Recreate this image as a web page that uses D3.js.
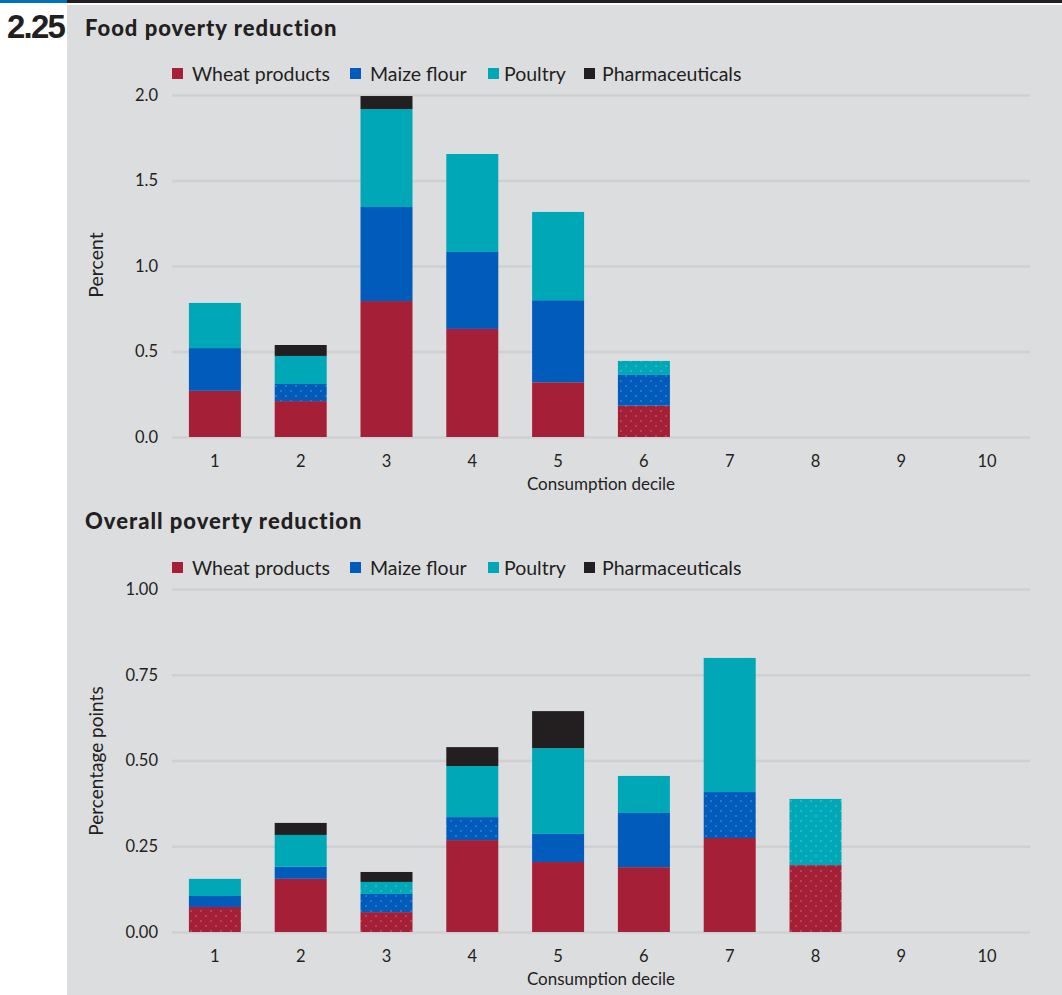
<!DOCTYPE html>
<html><head><meta charset="utf-8">
<script src="https://cdn.jsdelivr.net/npm/d3@7/dist/d3.min.js"></script>
<style>body{margin:0;background:#fff;}svg{display:block;}text{font-family:Lato,"Open Sans",sans-serif;fill:#231f20;}</style>
</head><body>
<script>
const deciles = ["1","2","3","4","5","6","7","8","9","10"];
const seriesNames = ["Wheat products","Maize flour","Poultry","Pharmaceuticals"];
const seriesColors = ["#a51f36","#005bbb","#00a7b7","#231f20"];

// Food poverty reduction (percent)
const foodWheat   = [0.27, 0.21, 0.795, 0.632, 0.32, 0.183, 0, 0, 0, 0];
const foodMaize   = [0.25, 0.10, 0.55, 0.45, 0.48, 0.18, 0, 0, 0, 0];
const foodPoultry = [0.264, 0.164, 0.573, 0.573, 0.516, 0.082, 0, 0, 0, 0];
const foodPharma  = [0, 0.064, 0.076, 0, 0, 0, 0, 0, 0, 0];
// not significant segments (dotted), per series
const foodDotWheat   = [0,0,0,0,0,1,0,0,0,0];
const foodDotMaize   = [0,1,0,0,0,1,0,0,0,0];
const foodDotPoultry = [0,0,0,0,0,1,0,0,0,0];
const foodDotPharma  = [0,0,0,0,0,0,0,0,0,0];
const foodTicks = [0, 0.5, 1.0, 1.5, 2.0];

// Overall poverty reduction (percentage points)
const allWheat   = [0.073, 0.155, 0.058, 0.268, 0.204, 0.189, 0.274, 0.195, 0, 0];
const allMaize   = [0.032, 0.035, 0.053, 0.067, 0.082, 0.158, 0.134, 0, 0, 0];
const allPoultry = [0.050, 0.093, 0.035, 0.149, 0.250, 0.108, 0.391, 0.193, 0, 0];
const allPharma  = [0, 0.035, 0.029, 0.055, 0.108, 0, 0, 0, 0, 0];
const allDotWheat   = [1,0,1,0,0,0,0,1,0,0];
const allDotMaize   = [0,0,1,1,0,0,1,0,0,0];
const allDotPoultry = [0,0,1,0,0,0,0,1,0,0];
const allDotPharma  = [0,0,0,0,0,0,0,0,0,0];
const allTicks = [0, 0.25, 0.5, 0.75, 1.0];

const W = 1062, H = 995;
const svg = d3.select("body").append("svg").attr("width", W).attr("height", H);
const defs = svg.append("defs");
seriesColors.forEach((c, i) => {
  const p = defs.append("pattern").attr("id", "dot" + i).attr("patternUnits", "userSpaceOnUse")
    .attr("width", 10).attr("height", 10);
  p.append("rect").attr("width", 10).attr("height", 10).attr("fill", c);
  p.append("rect").attr("x", 0).attr("y", 0).attr("width", 2).attr("height", 2).attr("fill", "#fff").attr("fill-opacity", 0.16);
  p.append("rect").attr("x", 5).attr("y", 5).attr("width", 2).attr("height", 2).attr("fill", "#fff").attr("fill-opacity", 0.16);
});

// panel & top rule
svg.append("rect").attr("x", 67).attr("y", 5).attr("width", W - 67).attr("height", H - 5).attr("fill", "#dcdddf");
svg.append("rect").attr("x", 0).attr("y", 0).attr("width", W).attr("height", 3).attr("fill", "#231f20");
svg.append("rect").attr("x", 0).attr("y", 0).attr("width", 67).attr("height", 3).attr("fill", "#0071bc");
svg.append("text").attr("x", 7).attr("y", 38).text("2.25")
  .style("font-family", "'Liberation Sans Narrow','Liberation Sans',sans-serif").style("font-weight", "bold")
  .style("font-size", "33px").style("letter-spacing", "-1.8px");

function drawChart(cfg) {
  const g = svg.append("g");
  g.append("text").attr("x", 85).attr("y", cfg.titleY).text(cfg.title)
    .style("font-weight", "900").style("font-size", "22px").style("letter-spacing", "1px");

  // legend
  const legSq = [172, 350, 488, 584];
  const legTx = [192, 370, 504, 602];
  seriesNames.forEach((n, i) => {
    g.append("rect").attr("x", legSq[i]).attr("y", cfg.legY - 6).attr("width", 11).attr("height", 11).attr("fill", seriesColors[i]);
    g.append("text").attr("x", legTx[i]).attr("y", cfg.legY).attr("dy", "0.35em").text(n).style("font-size", "19.5px");
  });

  const x = d3.scaleBand().domain(deciles).range([172, 1030]).paddingInner(0.394).paddingOuter(0.197);
  const y = d3.scaleLinear().domain([0, cfg.ticks[cfg.ticks.length - 1]]).range([cfg.y0, cfg.y1]);

  const yAxis = d3.axisLeft(y).tickValues(cfg.ticks).tickSize(-(1030 - 172)).tickFormat(cfg.fmt);
  const ya = g.append("g").attr("transform", "translate(172,0)").call(yAxis);
  ya.select(".domain").remove();
  ya.selectAll(".tick line").attr("stroke", "#cfd0d2").attr("stroke-width", 2.5);
  ya.selectAll(".tick text").attr("x", -14).style("font-size", "16.5px").style("fill", "#231f20").style("font-family", "Lato,sans-serif");

  const xAxis = d3.axisBottom(x).tickSize(0).tickPadding(18);
  const xa = g.append("g").attr("transform", `translate(0,${cfg.y0})`).call(xAxis);
  xa.select(".domain").remove();
  xa.selectAll(".tick text").style("font-size", "16.5px").style("fill", "#231f20").style("font-family", "Lato,sans-serif");

  g.append("text").attr("x", 601).attr("y", cfg.y0 + 53).attr("text-anchor", "middle").text("Consumption decile").style("font-size", "17px");
  g.append("text").attr("transform", `translate(103,${cfg.ytitleC}) rotate(-90)`).attr("text-anchor", "middle").text(cfg.ytitle).style("font-size", cfg.ytitleSize);

  const rows = deciles.map((d, i) => {
    const o = {decile: d};
    seriesNames.forEach((n, k) => { o[n] = cfg.vals[k][i]; });
    return o;
  });
  const stacked = d3.stack().keys(seriesNames)(rows);
  stacked.forEach((s, k) => {
    g.append("g").selectAll("rect").data(s).join("rect")
      .attr("x", d => x(d.data.decile))
      .attr("width", x.bandwidth())
      .attr("y", d => y(d[1]))
      .attr("height", d => Math.max(0, y(d[0]) - y(d[1])))
      .attr("fill", (d, i) => cfg.dots[k][i] ? `url(#dot${k})` : seriesColors[k]);
  });
}

drawChart({
  title: "Food poverty reduction", titleY: 36, legY: 74,
  y0: 437, y1: 95, ticks: foodTicks, fmt: d3.format(".1f"),
  ytitle: "Percent", ytitleC: 265, ytitleSize: "19.5px",
  vals: [foodWheat, foodMaize, foodPoultry, foodPharma],
  dots: [foodDotWheat, foodDotMaize, foodDotPoultry, foodDotPharma]
});
drawChart({
  title: "Overall poverty reduction", titleY: 529, legY: 568,
  y0: 932, y1: 589, ticks: allTicks, fmt: d3.format(".2f"),
  ytitle: "Percentage points", ytitleC: 761, ytitleSize: "19px",
  vals: [allWheat, allMaize, allPoultry, allPharma],
  dots: [allDotWheat, allDotMaize, allDotPoultry, allDotPharma]
});
</script>
</body></html>
